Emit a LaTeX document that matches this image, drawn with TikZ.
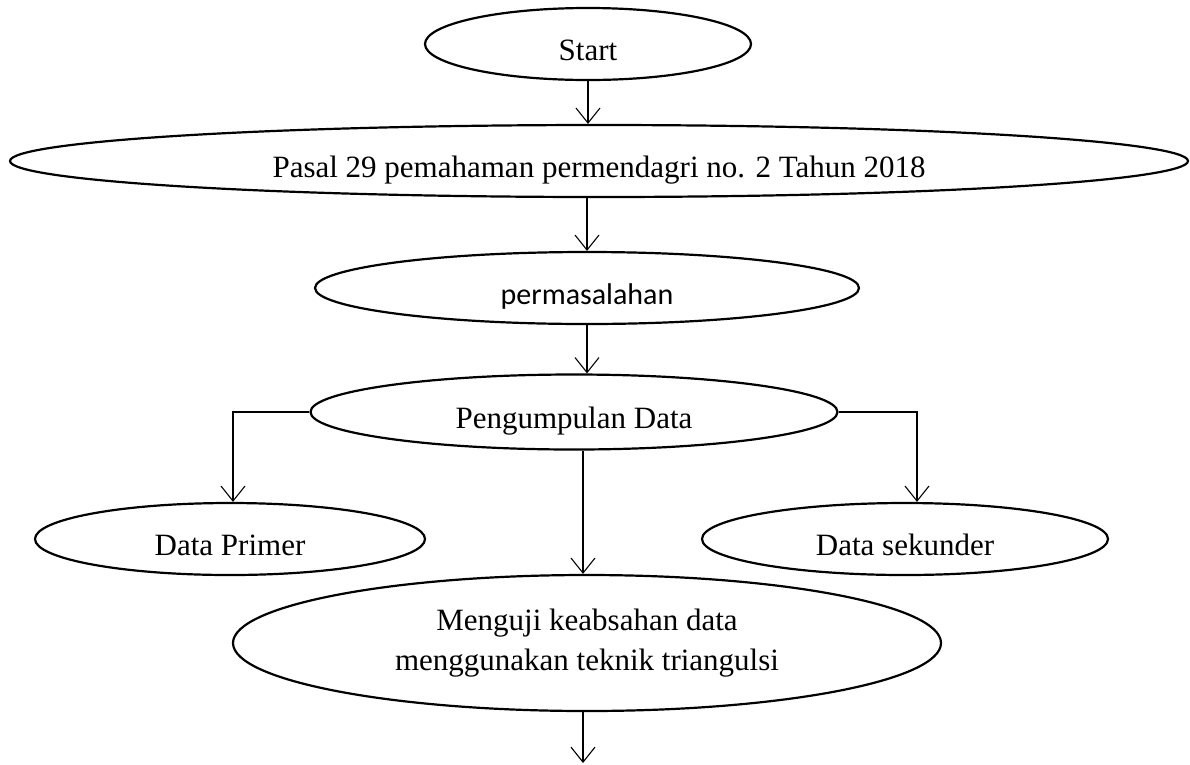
\documentclass[tikz,border=0pt]{standalone}
\usepackage{fontspec}
\setmainfont{Liberation Serif}
\newfontfamily\sansfont{Carlito}
\usetikzlibrary{shapes.geometric,arrows.meta,positioning}

\begin{document}
\begin{tikzpicture}[x=1pt,y=-1pt,->,>={Straight Barb[length=15pt,width=24pt]},
    oval/.style={draw,ellipse,line width=2.2pt,inner sep=0pt,align=center,font=\fontsize{31}{40}\selectfont},
    oneline/.style={oval,text height=34pt,text depth=2pt},
    link/.style={line width=1.1pt}]
    \useasboundingbox (0,0) rectangle (1190,764);

    \node[oneline,minimum width=326pt,minimum height=72pt] (start) at (588,44) {Start};
    \node[oneline,minimum width=1178pt,minimum height=72pt] (pasal) at (599,161) {Pasal 29 pemahaman permendagri no. 2 Tahun 2018};
    \node[oneline,minimum width=544pt,minimum height=72pt,font=\sansfont\fontsize{30}{36}\selectfont] (masalah) at (587,288) {permasalahan};
    \node[oneline,minimum width=527pt,minimum height=75pt] (kumpul) at (574,412) {Pengumpulan Data};

    \node[oneline,minimum width=390pt,minimum height=72pt] (primer) at (230,539) {Data Primer};
    \node[oneline,minimum width=406pt,minimum height=72pt] (sekunder) at (905,539) {Data sekunder};
    \node[oval,minimum width=708pt,minimum height=136pt] (uji) at (587,643) {Menguji keabsahan data\\menggunakan teknik triangulsi};

    \coordinate (ujiend) at (583,763);
    \coordinate (kirikiri) at (233,412);
    \coordinate (kanankanan) at (917,412);

    \draw[link] (start.south) -- (start.south |- pasal.north);
    \draw[link] (masalah.north |- pasal.south) -- (masalah.north);
    \draw[link] (masalah.south) -- (masalah.south |- kumpul.north);
    \draw[link] (kumpul.west) -| (kirikiri |- primer.north);
    \draw[link] (kumpul.east) -| (kanankanan |- sekunder.north);
    \draw[link] (ujiend |- kumpul.south) -- (ujiend |- uji.north);
    \draw[link] (ujiend |- uji.south) -- (ujiend);
\end{tikzpicture}
\end{document}
